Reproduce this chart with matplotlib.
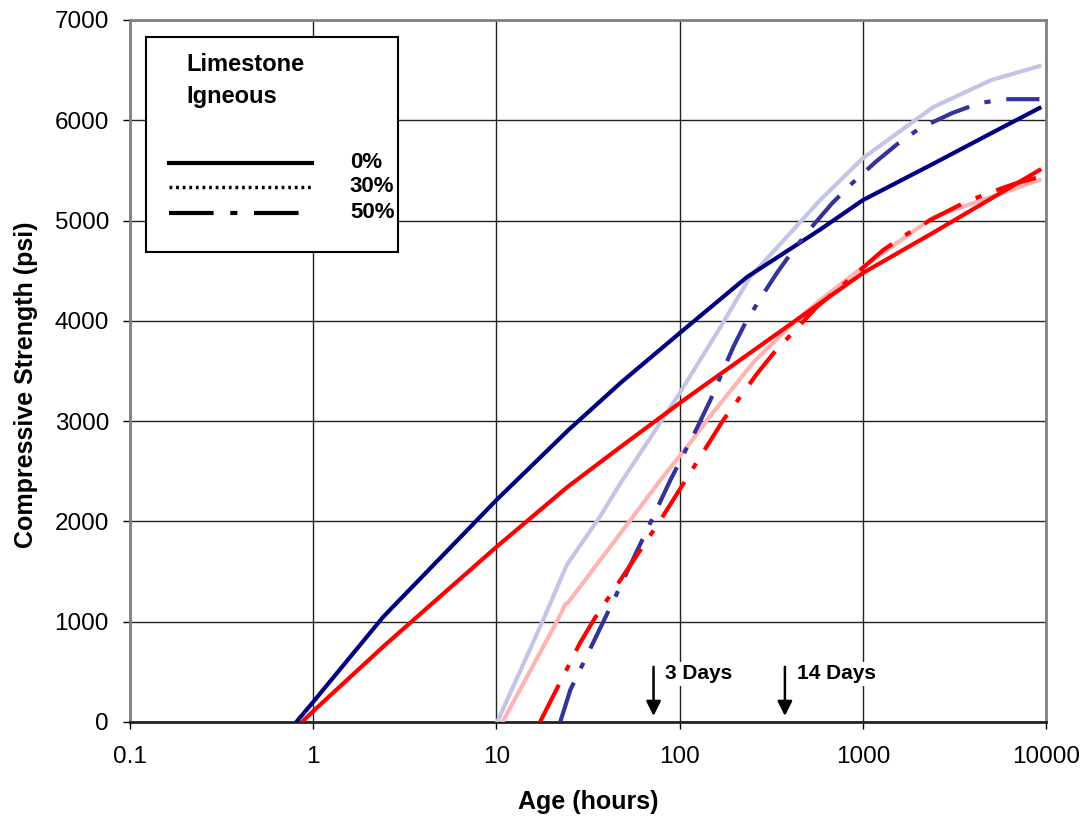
import matplotlib
matplotlib.use("Agg")
import matplotlib.pyplot as plt
from matplotlib.lines import Line2D
from matplotlib.patches import Rectangle

plt.rcParams['font.family'] = ['Liberation Sans', 'DejaVu Sans']

# Limestone 0% (navy)
lime0_x = [0.81, 1, 2.41, 10, 24.7, 47.5, 100, 233, 584, 1000, 2421, 5000, 9180]
lime0_y = [0, 199, 1047, 2213, 2911, 3380, 3878, 4437, 4910, 5204, 5567, 5870, 6122]
# Igneous 0% (red)
ign0_x = [0.87, 1, 2.47, 10, 24.4, 47.5, 100, 129, 427, 1000, 2421, 9180]
ign0_y = [0, 107, 768, 1745, 2343, 2742, 3180, 3325, 4000, 4477, 4880, 5503]
# Limestone 30% (light blue)
lime30_x = [10.1, 18.0, 23.8, 24.3, 36.8, 47.5, 100, 167, 242, 342, 584, 1000, 2421, 5000, 9180]
lime30_y = [0, 1017, 1535, 1570, 2050, 2380, 3280, 3938, 4437, 4736, 5204, 5623, 6132, 6400, 6540]
# Igneous 30% (light pink)
ign30_x = [10.8, 21.6, 23.8, 24.6, 53.9, 78.6, 114, 141, 253, 417, 584, 1000, 2421, 9180]
ign30_y = [0, 1017, 1176, 1190, 2014, 2413, 2782, 3011, 3589, 3978, 4207, 4536, 5035, 5404]
# Limestone 50% (blue dash-dot)
lime50_x = [22.3, 25.3, 41.9, 66.3, 89, 125, 147, 196, 228, 283, 342, 417, 536, 680,
            875, 1170, 1540, 2050, 3070, 4300, 5990, 9180]
lime50_y = [0, 319, 1147, 1914, 2413, 2941, 3210, 3739, 3978, 4257, 4487, 4706, 4955, 5174,
            5373, 5583, 5763, 5922, 6072, 6171, 6210, 6210]
# Igneous 50% (red dash-dot)
ign50_x = [17.3, 28.6, 34.5, 78.6, 114, 173, 266, 326, 417, 560, 968, 1290, 1740, 2330,
           3530, 4840, 6900, 9180]
ign50_y = [0, 788, 1037, 2014, 2483, 3011, 3480, 3679, 3888, 4138, 4507, 4706, 4866, 5005,
           5174, 5274, 5374, 5434]

x_ticks = [0.1, 1, 10, 100, 1000, 10000]
x_ticklabels = ['0.1', '1', '10', '100', '1000', '10000']
y_ticks = [0, 1000, 2000, 3000, 4000, 5000, 6000, 7000]
legend_labels = ['0%', '30%', '50%']
legend_titles = ['Limestone', 'Igneous']
arrow_x = [72, 375]
arrow_labels = ['3 Days', '14 Days']

fig = plt.figure(figsize=(10.91, 8.22), dpi=100)
ax = fig.add_axes([0.119, 0.1217, 0.84, 0.854])

lw = 3.0
dashdot = (0, (10, 3.8, 1.5, 3.8))
ax.plot(lime30_x, lime30_y, color='#c4c4e6', lw=lw, zorder=3)
ax.plot(ign30_x, ign30_y, color='#ffb4b4', lw=lw, zorder=3)
ax.plot(lime0_x, lime0_y, color='#000080', lw=lw, zorder=4)
ax.plot(ign0_x, ign0_y, color='#ff0000', lw=lw, zorder=4)
ax.plot(lime50_x, lime50_y, color='#333399', lw=lw, linestyle=dashdot, zorder=5)
ax.plot(ign50_x, ign50_y, color='#ff0000', lw=lw, linestyle=dashdot, zorder=5)

ax.set_xscale('log')
ax.set_xlim(0.1, 10000)
ax.set_ylim(0, 7000)
ax.set_xticks(x_ticks)
ax.set_xticklabels(x_ticklabels)
ax.minorticks_off()
ax.set_yticks(y_ticks)
ax.tick_params(labelsize=17.5, direction='out', length=5, width=1)
ax.tick_params(axis='x', pad=12)
ax.tick_params(axis='y', pad=10)
ax.grid(True, color='#222222', lw=1.0, zorder=0)
ax.set_axisbelow(True)
for s in ['top', 'right', 'left']:
    ax.spines[s].set_color('#808080')
    ax.spines[s].set_linewidth(2)
ax.spines['bottom'].set_color('#222222')
ax.spines['bottom'].set_linewidth(2)

ax.set_xlabel('Age (hours)', fontsize=18, fontweight='bold', labelpad=16)
ax.set_ylabel('Compressive Strength (psi)', fontsize=18, fontweight='bold', labelpad=12)
ax.yaxis.set_label_coords(-0.1, 0.48)

# arrows for 3 and 14 days
for xv, lab in zip(arrow_x, arrow_labels):
    ax.annotate('', xy=(xv, 60), xytext=(xv, 550),
                arrowprops=dict(arrowstyle='-|>', color='black', lw=1.8,
                                mutation_scale=22, shrinkA=0, shrinkB=0), zorder=6)
    ax.text(xv * 1.16, 480, lab, fontsize=15, fontweight='bold', va='center', ha='left',
            bbox=dict(facecolor='white', edgecolor='none', pad=2), zorder=6)

# legend box drawn in axes coordinates
def px2ax(px, py):
    return ((px - 130) / 916.0, (722 - py) / 702.0)

x0, y0 = px2ax(146, 252)
x1, y1 = px2ax(398, 37)
ax.add_patch(Rectangle((x0, y0), x1 - x0, y1 - y0, transform=ax.transAxes,
                       facecolor='white', edgecolor='black', lw=1.5, zorder=7))
for lab, py in zip(legend_titles, [65, 97]):
    tx, ty = px2ax(187, py)
    ax.text(tx, ty, lab, transform=ax.transAxes, fontsize=17, fontweight='bold',
            va='center', ha='left', zorder=8)
styles = [('-', 3.0), ((0, (0.8, 1.1)), 2.5), ((0, (10.7, 4, 1.7, 4)), 3.0)]
for (ls, w), lab, py in zip(styles, legend_labels, [163, 187, 213]):
    lx0, ly = px2ax(169, py)
    lx1, _ = px2ax(312, py)
    ax.add_line(Line2D([lx0, lx1], [ly, ly], transform=ax.transAxes, color='black',
                       lw=w, linestyle=ls, zorder=8))
    tx, _ = px2ax(350, py)
    ax.text(tx, ly, lab, transform=ax.transAxes, fontsize=16, fontweight='bold',
            va='center', ha='left', zorder=8)

fig.savefig('out.png', dpi=100)
